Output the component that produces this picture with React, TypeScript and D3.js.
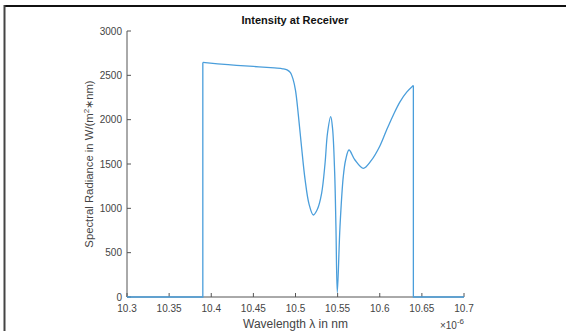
import React from "react";
import * as d3 from "d3";

const W = 566;
const H = 331;

// wavelength (×1e-6 m) and spectral radiance
const baseLeft: [number, number][] = [
  [10.3, 0],
  [10.39, 0],
  [10.39, 2645],
];
const curveX = [
  10.39, 10.42, 10.45, 10.475, 10.485, 10.49, 10.494, 10.497, 10.5, 10.5033, 10.5073, 10.5113,
  10.516, 10.5211, 10.526, 10.531, 10.535, 10.538, 10.5418, 10.544, 10.5465, 10.548,
  10.5496, 10.5528, 10.5567, 10.5595, 10.5635, 10.5706, 10.5805, 10.59, 10.6,
  10.608, 10.616, 10.624, 10.632, 10.6399,
];
const curveY = [
  2645, 2620, 2600, 2583, 2574, 2562, 2530, 2460, 2330, 2060, 1680, 1330,
  1050, 925, 990, 1170, 1500, 1850, 2034, 1900, 1400, 793,
  49, 793, 1357, 1545, 1658, 1545, 1451, 1540, 1700,
  1880, 2050, 2200, 2310, 2385,
];
const baseRight: [number, number][] = [
  [10.6399, 2385],
  [10.6399, 0],
  [10.7, 0],
];
const xTicks = [10.3, 10.35, 10.4, 10.45, 10.5, 10.55, 10.6, 10.65, 10.7];
const yTicks = [0, 500, 1000, 1500, 2000, 2500, 3000];

const left = 127;
const right = 464;
const top = 31;
const bottom = 297;
const font = "'Liberation Sans', Arial, sans-serif";
const lineColor = "#4a9edb";
const axisColor = "#555";

export default function App() {
  const x = d3.scaleLinear().domain([10.3, 10.7]).range([left, right]);
  const y = d3.scaleLinear().domain([0, 3000]).range([bottom, top]);
  const lin = d3.line<[number, number]>().x((d) => x(d[0])).y((d) => y(d[1]));
  const smooth = d3
    .line<[number, number]>()
    .x((d) => x(d[0]))
    .y((d) => y(d[1]))
    .curve(d3.curveCatmullRom.alpha(0.5));
  const mid: [number, number][] = curveX.map((v, i) => [v, curveY[i]]);

  return (
    <svg
      width={W}
      height={H}
      style={{ position: "absolute", left: 0, top: 0, background: "#fff" }}
      fontFamily={font}
    >
      <line x1={4} y1={6} x2={W} y2={6} stroke="#111" strokeWidth={2} />
      <line x1={4.5} y1={5} x2={4.5} y2={H} stroke="#444" strokeWidth={2} />

      <text x={295} y={24} textAnchor="middle" fontSize={11} fontWeight="bold" fill="#111">
        Intensity at Receiver
      </text>

      {/* axes */}
      <line x1={left} y1={bottom} x2={right} y2={bottom} stroke={axisColor} strokeWidth={1} />
      <line x1={left} y1={top} x2={left} y2={bottom} stroke={axisColor} strokeWidth={1} />
      {xTicks.map((t) => (
        <g key={"x" + t}>
          <line x1={x(t)} x2={x(t)} y1={bottom} y2={bottom - 4} stroke={axisColor} />
          <text x={x(t)} y={bottom + 15} textAnchor="middle" fontSize={10} fill="#444">
            {t}
          </text>
        </g>
      ))}
      {yTicks.map((t) => (
        <g key={"y" + t}>
          <line x1={left} x2={left + 4} y1={y(t)} y2={y(t)} stroke={axisColor} />
          <text x={left - 5} y={y(t) + 3.5} textAnchor="end" fontSize={10} fill="#444">
            {t}
          </text>
        </g>
      ))}

      <path d={lin(baseLeft) || ""} fill="none" stroke={lineColor} strokeWidth={1.3} />
      <path d={smooth(mid) || ""} fill="none" stroke={lineColor} strokeWidth={1.3} />
      <path d={lin(baseRight) || ""} fill="none" stroke={lineColor} strokeWidth={1.3} />

      <text x={295.5} y={328} textAnchor="middle" fontSize={12} fill="#444">
        Wavelength λ in nm
      </text>
      <text x={464} y={329} textAnchor="end" fontSize={10} fill="#444">
        ×10
        <tspan dy={-5} fontSize={8}>-6</tspan>
      </text>
      <text
        transform={`translate(93,${(top + bottom) / 2}) rotate(-90)`}
        textAnchor="middle"
        fontSize={11.3}
        fill="#444"
      >
        Spectral Radiance in W/(m
        <tspan dy={-4} fontSize={8}>2</tspan>
        <tspan dy={4}>∗nm)</tspan>
      </text>
    </svg>
  );
}
